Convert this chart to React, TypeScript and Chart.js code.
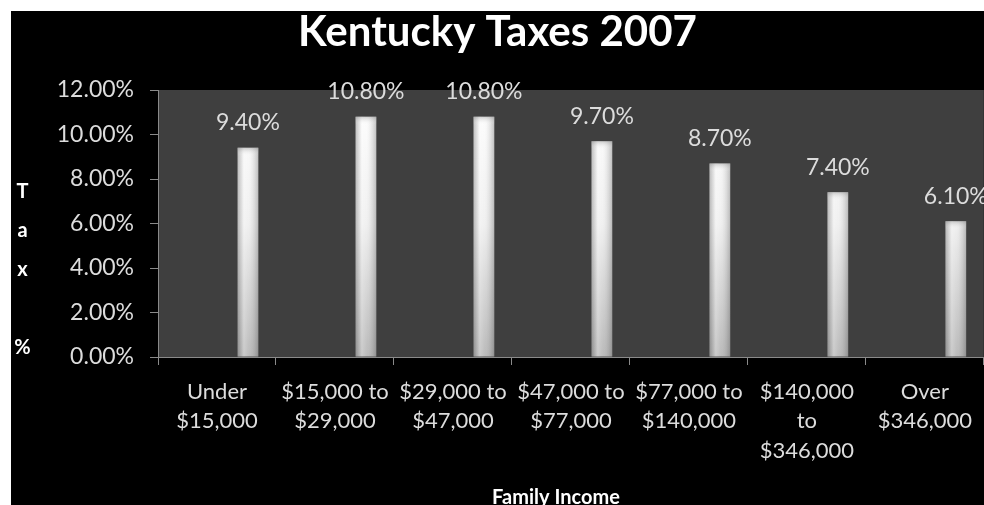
import React, { useEffect, useRef } from "react";
import { Chart, registerables } from "chart.js";

Chart.register(...registerables);

const categories: string[][] = [
  ["Under", "$15,000"],
  ["$15,000 to", "$29,000"],
  ["$29,000 to", "$47,000"],
  ["$47,000 to", "$77,000"],
  ["$77,000 to", "$140,000"],
  ["$140,000", "to", "$346,000"],
  ["Over", "$346,000"],
];
const taxPercent: number[] = [9.4, 10.8, 10.8, 9.7, 8.7, 7.4, 6.1];
// empty placeholder series (as in the original clustered chart)
const emptySeries: (number | null)[] = [null, null, null, null, null, null, null];
const yTickValues: number[] = [0, 2, 4, 6, 8, 10, 12];
const chartTitle = "Kentucky Taxes 2007";
const xTitle = "Family Income";
const yTitleLetters: string[] = ["T", "a", "x", "", "%"];

const FONT = "Lato, 'Open Sans', sans-serif";
const LABEL_COLOR = "#dcdcdc";
const AXIS_COLOR = "#8a8a8a";

const fmt = (v: number) => v.toFixed(2) + "%";

const plotBg = {
  id: "plotBg",
  beforeDraw(chart: any) {
    const { ctx, chartArea } = chart;
    if (!chartArea) return;
    ctx.save();
    ctx.fillStyle = "#3f3f3f";
    ctx.fillRect(chartArea.left, chartArea.top, chartArea.right - chartArea.left, chartArea.bottom - chartArea.top);
    ctx.restore();
  },
};

const barShade = {
  id: "barShade",
  afterDatasetsDraw(chart: any) {
    const { ctx } = chart;
    const meta = chart.getDatasetMeta(3);
    ctx.save();
    meta.data.forEach((bar: any, i: number) => {
      const p = bar.getProps(["x", "y", "base", "width"], true);
      const l = p.x - p.width / 2;
      const r = p.x + p.width / 2;
      const g = ctx.createLinearGradient(l, 0, r, 0);
      g.addColorStop(0, "rgba(60,60,60,0.3)");
      g.addColorStop(0.3, "rgba(255,255,255,0.3)");
      g.addColorStop(0.55, "rgba(255,255,255,0.1)");
      g.addColorStop(1, "rgba(60,60,60,0.3)");
      ctx.fillStyle = g;
      ctx.fillRect(l, p.y, p.width, p.base - p.y);
      // slight cap shading at the top of the bar
      const cg = ctx.createLinearGradient(0, p.y, 0, p.y + 8);
      cg.addColorStop(0, "rgba(120,120,120,0.35)");
      cg.addColorStop(1, "rgba(255,255,255,0)");
      ctx.fillStyle = cg;
      ctx.fillRect(l, p.y, p.width, 8);
      // data label
      ctx.fillStyle = LABEL_COLOR;
      ctx.font = `23px ${FONT}`;
      ctx.textAlign = "center";
      ctx.textBaseline = "middle";
      ctx.fillText(fmt(taxPercent[i]), p.x, p.y - 25);
    });
    ctx.restore();
  },
};

const axisTitles = {
  id: "axisTitles",
  afterDraw(chart: any) {
    const { ctx, chartArea } = chart;
    ctx.save();
    ctx.fillStyle = "#ffffff";
    ctx.textAlign = "center";
    ctx.textBaseline = "middle";
    ctx.font = `bold 20px ${FONT}`;
    yTitleLetters.forEach((ch, i) => {
      ctx.fillText(ch, 11.5, 181 + i * 39);
    });
    ctx.font = `bold 20px ${FONT}`;
    ctx.fillText(xTitle, chartArea.left + 398, 487);
    ctx.restore();
  },
};

export default function App() {
  const ref = useRef<HTMLCanvasElement>(null);
  useEffect(() => {
    if (!ref.current) return;
    const chart = new Chart(ref.current, {
      type: "bar",
      data: {
        labels: categories,
        datasets: [
          { label: "s1", data: emptySeries },
          { label: "s2", data: emptySeries },
          { label: "s3", data: emptySeries },
          {
            label: "Tax %",
            data: taxPercent,
            backgroundColor: (c: any) => {
              const area = c.chart.chartArea;
              if (!area) return "#e0e0e0";
              const g = c.chart.ctx.createLinearGradient(0, area.top, 0, area.bottom);
              g.addColorStop(0, "#ffffff");
              g.addColorStop(0.5, "#eeeeee");
              g.addColorStop(1, "#b4b4b4");
              return g;
            },
            borderWidth: 0,
          },
        ],
      },
      options: {
        responsive: false,
        animation: false,
        categoryPercentage: 0.7,
        barPercentage: 1.0,
        layout: { padding: 0 },
        plugins: {
          legend: { display: false },
          tooltip: { enabled: false },
          title: {
            display: true,
            text: chartTitle,
            color: "#ffffff",
            font: { family: FONT, weight: "bold", size: 42, lineHeight: 1 },
            padding: { top: 0, bottom: 37 },
          },
        },
        scales: {
          x: {
            grid: { offset: true, drawOnChartArea: false, drawTicks: true, tickLength: 8, color: AXIS_COLOR },
            border: { display: true, color: AXIS_COLOR },
            ticks: {
              color: LABEL_COLOR,
              font: { family: FONT, size: 22, lineHeight: 1.34 },
              padding: 12,
              maxRotation: 0,
              autoSkip: false,
            },
            afterFit: (s: any) => {
              s.height = 148;
            },
          },
          y: {
            min: 0,
            max: 12,
            afterBuildTicks: (s: any) => {
              s.ticks = yTickValues.map((v) => ({ value: v }));
            },
            grid: { drawOnChartArea: false, drawTicks: true, tickLength: 8, color: AXIS_COLOR },
            border: { display: true, color: AXIS_COLOR },
            ticks: {
              color: LABEL_COLOR,
              font: { family: FONT, size: 23 },
              padding: 16,
              callback: (v: any) => fmt(Number(v)),
            },
            afterFit: (s: any) => {
              s.width = 147;
            },
          },
        },
      },
      plugins: [plotBg, barShade, axisTitles],
    });
    return () => chart.destroy();
  }, []);

  return (
    <div style={{ position: "absolute", left: 0, top: 0, width: 984, height: 505, background: "#ffffff", overflow: "hidden" }}>
      <div style={{ position: "absolute", left: 11, top: 11, width: 973, height: 494, background: "#000000" }}>
        <canvas ref={ref} width={973} height={494} style={{ display: "block" }} />
      </div>
    </div>
  );
}
